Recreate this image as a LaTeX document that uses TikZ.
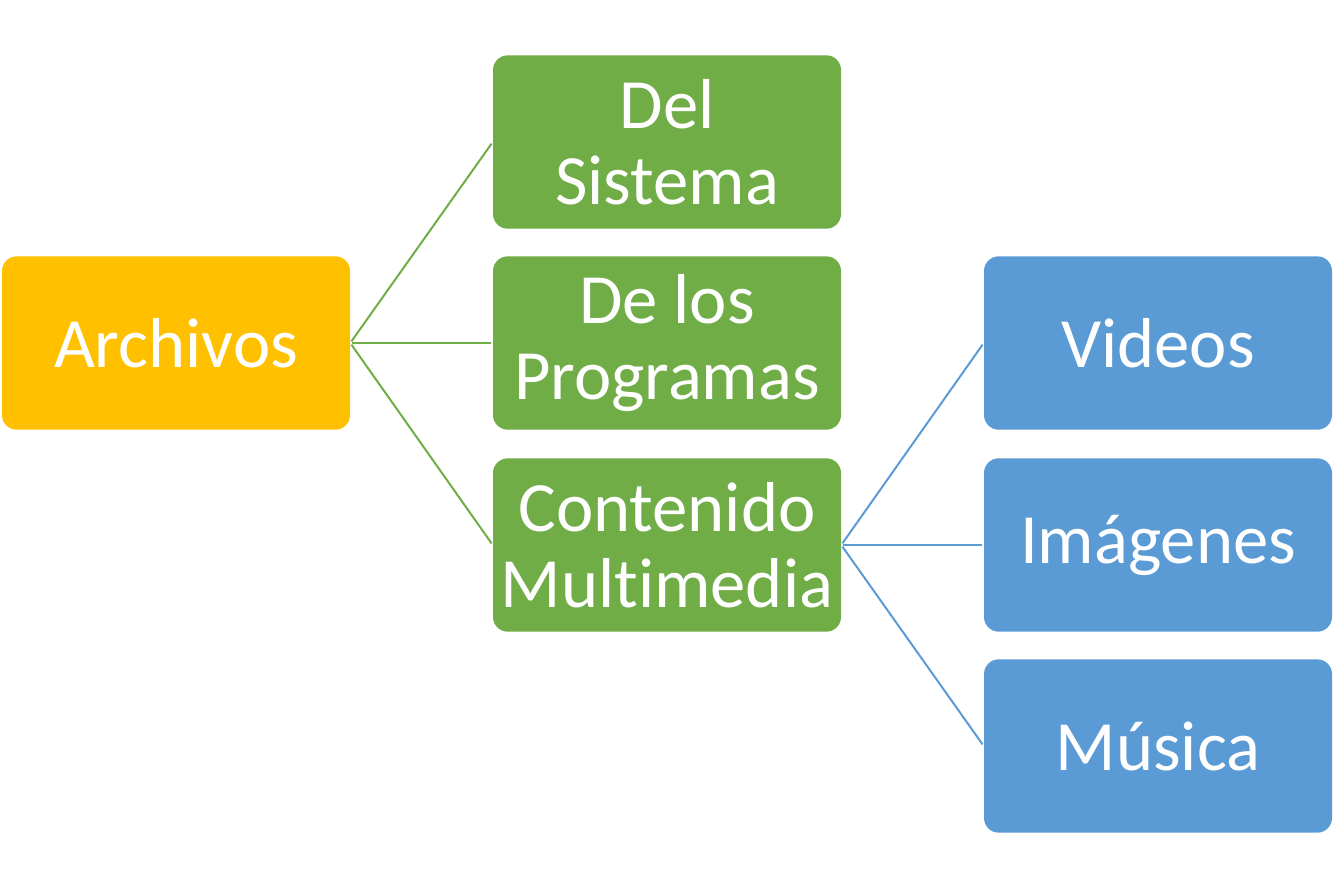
\documentclass[tikz,border=0pt]{standalone}
\usepackage{fontspec}
\setmainfont{Carlito}[Ligatures=NoCommon]
\usepackage{tikz}
\usetikzlibrary{arrows.meta}

\definecolor{archorange}{HTML}{FFC000}
\definecolor{tipogreen}{HTML}{70AD47}
\definecolor{mediablue}{HTML}{5B9BD5}

\tikzset{
  box/.style={rectangle, rounded corners=11pt, minimum width=261pt, minimum height=130pt,
    inner sep=0pt, text=white, align=center,
    font=\fontsize{53}{57}\selectfont},
  link/.style={line width=1.5pt, shorten >=1.5pt, shorten <=1.5pt}
}

\begin{document}
\begin{tikzpicture}[x=0.75pt, y=-0.75pt]
            \useasboundingbox (0,0) rectangle (1340,889);

            \node[box, fill=archorange] (arch) at (176,343) {Archivos};

            \node[box, fill=tipogreen] (sis) at (667,142) {Del\\Sistema};
            \node[box, fill=tipogreen] (prog) at (667,343) {De los\\Programas};
            \node[box, fill=tipogreen] (multi) at (667,545) {Contenido\\Multimedia};

            \node[box, fill=mediablue] (vid) at (1158,343) {Videos};
            \node[box, fill=mediablue] (img) at (1158,545) {Imágenes};
            \node[box, fill=mediablue] (mus) at (1158,746) {Música};

            %\draw[link] (arch.east) -- (sis.west);
            \foreach \n in {sis,prog,multi}
                \draw[link, tipogreen] (arch.east) -- (\n.west);

            \foreach \n in {vid,img,mus}
                \draw[link, mediablue] (multi.east) -- (\n.west);
        \end{tikzpicture}
\end{document}
